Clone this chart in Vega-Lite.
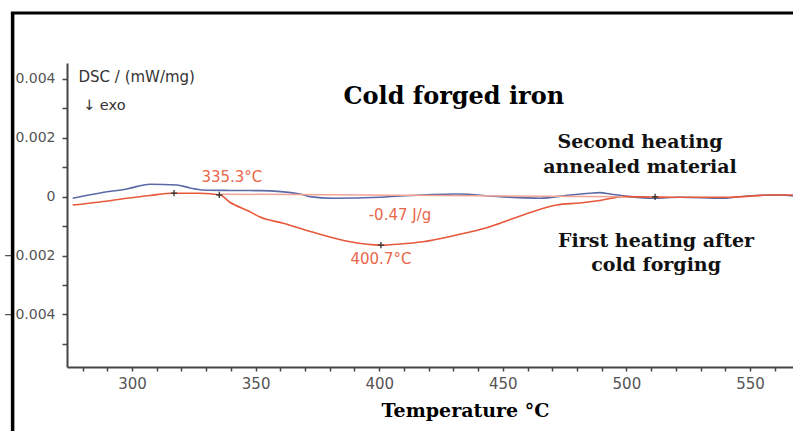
{
  "$schema": "https://vega.github.io/schema/vega-lite/v6.json",
  "width": 726,
  "height": 304,
  "autosize": "none",
  "padding": {"left": 67, "top": 63, "right": 0, "bottom": 64},
  "background": "white",
  "config": {"view": {"stroke": null}, "axis": {"labelOverlap": false, "grid": false}},
  "datasets": {
    "curves": [
      {"T": 276.0, "dsc": -0.000054, "run": "Second heating"},
      {"T": 287.1, "dsc": 0.000126, "run": "Second heating"},
      {"T": 297.9, "dsc": 0.000262, "run": "Second heating"},
      {"T": 307.3, "dsc": 0.000422, "run": "Second heating"},
      {"T": 318.1, "dsc": 0.000398, "run": "Second heating"},
      {"T": 323.5, "dsc": 0.000296, "run": "Second heating"},
      {"T": 328.8, "dsc": 0.000228, "run": "Second heating"},
      {"T": 339.6, "dsc": 0.000211, "run": "Second heating"},
      {"T": 351.8, "dsc": 0.000204, "run": "Second heating"},
      {"T": 368.0, "dsc": 0.000092, "run": "Second heating"},
      {"T": 372.0, "dsc": 0.0, "run": "Second heating"},
      {"T": 381.3, "dsc": -0.000054, "run": "Second heating"},
      {"T": 400.3, "dsc": -0.00002, "run": "Second heating"},
      {"T": 408.4, "dsc": 0.000024, "run": "Second heating"},
      {"T": 431.3, "dsc": 0.000092, "run": "Second heating"},
      {"T": 448.9, "dsc": 0.0, "run": "Second heating"},
      {"T": 465.0, "dsc": -0.000054, "run": "Second heating"},
      {"T": 477.2, "dsc": 0.000058, "run": "Second heating"},
      {"T": 485.3, "dsc": 0.000116, "run": "Second heating"},
      {"T": 489.3, "dsc": 0.000136, "run": "Second heating"},
      {"T": 493.4, "dsc": 0.000092, "run": "Second heating"},
      {"T": 501.5, "dsc": 0.0, "run": "Second heating"},
      {"T": 510.8, "dsc": -0.000054, "run": "Second heating"},
      {"T": 521.7, "dsc": -0.00002, "run": "Second heating"},
      {"T": 539.1, "dsc": -0.000054, "run": "Second heating"},
      {"T": 548.8, "dsc": 0.000024, "run": "Second heating"},
      {"T": 562.1, "dsc": 0.000058, "run": "Second heating"},
      {"T": 567.4, "dsc": 0.000024, "run": "Second heating"},
      {"T": 276.0, "dsc": -0.000283, "run": "First heating"},
      {"T": 287.1, "dsc": -0.00018, "run": "First heating"},
      {"T": 297.9, "dsc": -0.000054, "run": "First heating"},
      {"T": 307.3, "dsc": 0.000041, "run": "First heating"},
      {"T": 316.7, "dsc": 0.000116, "run": "First heating"},
      {"T": 327.5, "dsc": 0.000116, "run": "First heating"},
      {"T": 335.6, "dsc": 0.000058, "run": "First heating"},
      {"T": 339.6, "dsc": -0.000191, "run": "First heating"},
      {"T": 347.7, "dsc": -0.000511, "run": "First heating"},
      {"T": 351.8, "dsc": -0.000691, "run": "First heating"},
      {"T": 361.2, "dsc": -0.000906, "run": "First heating"},
      {"T": 374.7, "dsc": -0.001246, "run": "First heating"},
      {"T": 388.2, "dsc": -0.001532, "run": "First heating"},
      {"T": 400.7, "dsc": -0.001645, "run": "First heating"},
      {"T": 408.4, "dsc": -0.00161, "run": "First heating"},
      {"T": 417.7, "dsc": -0.001532, "run": "First heating"},
      {"T": 431.3, "dsc": -0.001304, "run": "First heating"},
      {"T": 444.8, "dsc": -0.001021, "run": "First heating"},
      {"T": 458.2, "dsc": -0.000623, "run": "First heating"},
      {"T": 471.8, "dsc": -0.000283, "run": "First heating"},
      {"T": 481.2, "dsc": -0.000214, "run": "First heating"},
      {"T": 489.3, "dsc": -0.000129, "run": "First heating"},
      {"T": 498.6, "dsc": 0.0, "run": "First heating"},
      {"T": 510.0, "dsc": -0.00001, "run": "First heating"},
      {"T": 521.7, "dsc": -0.00002, "run": "First heating"},
      {"T": 541.9, "dsc": -0.00002, "run": "First heating"},
      {"T": 558.1, "dsc": 0.000058, "run": "First heating"},
      {"T": 567.4, "dsc": 0.000058, "run": "First heating"}
    ],
    "baseline": [
      {"T": 335.6, "dsc": 0.000085},
      {"T": 498.6, "dsc": 0.0}
    ],
    "markers": [
      {"T": 317.0, "dsc": 0.00012},
      {"T": 335.3, "dsc": 0.00006},
      {"T": 400.7, "dsc": -0.001645},
      {"T": 511.6, "dsc": -0.00001}
    ],
    "one": [{}]
  },
  "layer": [
    {
      "data": {"name": "curves"},
      "mark": {"type": "line", "strokeWidth": 1.6, "interpolate": "monotone"},
      "encoding": {
        "x": {
          "field": "T",
          "type": "quantitative",
          "scale": {"domain": [273.7, 567.4], "nice": false, "zero": false},
          "axis": {
            "values": [280, 290, 300, 310, 320, 330, 340, 350, 360, 370, 380, 390, 400, 410, 420, 430, 440, 450, 460, 470, 480, 490, 500, 510, 520, 530, 540, 550, 560],
            "tickCount": 100,
            "labelExpr": "datum.value % 50 === 0 ? datum.label : ''",
            "labelOverlap": false,
            "domainColor": "#444444",
            "domainWidth": 2,
            "tickColor": "#444444",
            "tickWidth": 1.5,
            "tickSize": 4,
            "labelFont": "DejaVu Sans",
            "labelFontSize": 15,
            "labelColor": "#555555",
            "labelPadding": 5,
            "title": "Temperature °C",
            "titleFont": "DejaVu Serif",
            "titleFontSize": 19,
            "titleFontWeight": "bold",
            "titleColor": "#000000",
            "titleX": 398,
            "titleY": 49,
            "titleAlign": "center",
            "titleBaseline": "alphabetic"
          }
        },
        "y": {
          "field": "dsc",
          "type": "quantitative",
          "scale": {"domain": [-0.005787, 0.004541], "nice": false, "zero": false},
          "axis": {
            "values": [0.004, 0.003, 0.002, 0.001, 0, -0.001, -0.002, -0.003, -0.004, -0.005],
            "tickCount": 100,
            "labelExpr": "abs(round(datum.value * 1000)) % 2 === 0 ? (datum.value === 0 ? '0' : format(datum.value, '.3f')) : ''",
            "labelOverlap": false,
            "domainColor": "#444444",
            "domainWidth": 2,
            "tickColor": "#444444",
            "tickWidth": 1.5,
            "tickSize": 5,
            "labelFont": "DejaVu Sans",
            "labelFontSize": 14,
            "labelColor": "#555555",
            "labelPadding": 7,
            "title": "DSC / (mW/mg)",
            "titleFont": "DejaVu Sans",
            "titleFontSize": 15,
            "titleFontWeight": "normal",
            "titleColor": "#333333",
            "titleAngle": 0,
            "titleX": 11,
            "titleY": 18,
            "titleAlign": "left",
            "titleBaseline": "alphabetic"
          }
        },
        "color": {
          "field": "run",
          "type": "nominal",
          "scale": {"domain": ["Second heating", "First heating"], "range": ["#5b69a6", "#e8583a"]},
          "legend": null
        }
      }
    },
    {
      "data": {"name": "baseline"},
      "mark": {"type": "line", "color": "#f3a595", "strokeWidth": 1.5},
      "encoding": {
        "x": {"field": "T", "type": "quantitative"},
        "y": {"field": "dsc", "type": "quantitative"}
      }
    },
    {
      "data": {"name": "markers"},
      "mark": {"type": "point", "shape": "M-1,0L1,0M0,-1L0,1", "filled": false, "size": 40, "stroke": "#333333", "strokeWidth": 1.3, "opacity": 1},
      "encoding": {
        "x": {"field": "T", "type": "quantitative"},
        "y": {"field": "dsc", "type": "quantitative"}
      }
    },
    {
      "data": {"name": "one"},
      "mark": {"type": "rule", "color": "#000000", "strokeWidth": 3.5},
      "encoding": {
        "x": {"datum": 251.7, "type": "quantitative"},
        "y": {"datum": 0.006243, "type": "quantitative"},
        "y2": {"datum": -0.0085}
      }
    },
    {
      "data": {"name": "one"},
      "mark": {"type": "rule", "color": "#000000", "strokeWidth": 3},
      "encoding": {
        "x": {"datum": 251.0, "type": "quantitative"},
        "x2": {"datum": 575},
        "y": {"datum": 0.006243, "type": "quantitative"}
      }
    },
    {
      "data": {"name": "one"},
      "mark": {"type": "text", "font": "DejaVu Sans", "fontSize": 14.5, "color": "#333333", "align": "left", "baseline": "alphabetic"},
      "encoding": {
        "x": {"datum": 280.2, "type": "quantitative"},
        "y": {"datum": 0.00295, "type": "quantitative"},
        "text": {"value": "↓ exo"}
      }
    },
    {
      "data": {"name": "one"},
      "mark": {"type": "text", "font": "DejaVu Serif", "fontSize": 24, "fontWeight": "bold", "color": "#000000", "align": "center", "baseline": "alphabetic"},
      "encoding": {
        "x": {"datum": 430.2, "type": "quantitative"},
        "y": {"datum": 0.003155, "type": "quantitative"},
        "text": {"value": "Cold forged iron"}
      }
    },
    {
      "data": {"name": "one"},
      "mark": {"type": "text", "font": "DejaVu Serif", "fontSize": 19, "fontWeight": "bold", "color": "#111111", "align": "center", "baseline": "alphabetic", "lineHeight": 25},
      "encoding": {
        "x": {"datum": 505.5, "type": "quantitative"},
        "y": {"datum": 0.001658, "type": "quantitative"},
        "text": {"value": ["Second heating", "annealed material"]}
      }
    },
    {
      "data": {"name": "one"},
      "mark": {"type": "text", "font": "DejaVu Serif", "fontSize": 19, "fontWeight": "bold", "color": "#111111", "align": "center", "baseline": "alphabetic", "lineHeight": 24},
      "encoding": {
        "x": {"datum": 512.0, "type": "quantitative"},
        "y": {"datum": -0.001712, "type": "quantitative"},
        "text": {"value": ["First heating after", "cold forging"]}
      }
    },
    {
      "data": {"name": "one"},
      "mark": {"type": "text", "font": "DejaVu Sans", "fontSize": 15, "color": "#e8674a", "align": "center", "baseline": "middle"},
      "encoding": {
        "x": {"datum": 340.4, "type": "quantitative"},
        "y": {"datum": 0.00067, "type": "quantitative"},
        "text": {"value": "335.3°C"}
      }
    },
    {
      "data": {"name": "one"},
      "mark": {"type": "text", "font": "DejaVu Sans", "fontSize": 15, "color": "#e8674a", "align": "center", "baseline": "middle"},
      "encoding": {
        "x": {"datum": 408.4, "type": "quantitative"},
        "y": {"datum": -0.00062, "type": "quantitative"},
        "text": {"value": "-0.47 J/g"}
      }
    },
    {
      "data": {"name": "one"},
      "mark": {"type": "text", "font": "DejaVu Sans", "fontSize": 15, "color": "#e8674a", "align": "center", "baseline": "middle"},
      "encoding": {
        "x": {"datum": 400.7, "type": "quantitative"},
        "y": {"datum": -0.00212, "type": "quantitative"},
        "text": {"value": "400.7°C"}
      }
    }
  ]
}
